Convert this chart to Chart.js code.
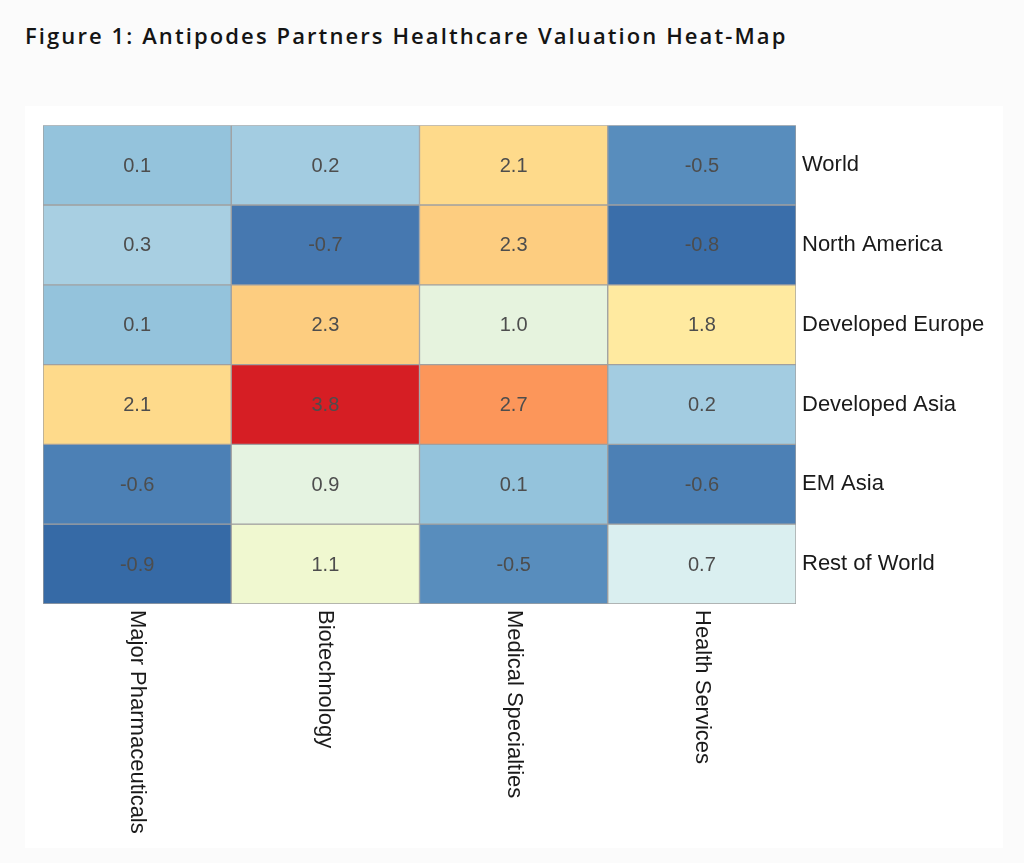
<!DOCTYPE html>
<html>
<head>
<meta charset="utf-8">
<title>Healthcare Valuation Heat-Map</title>
<script src="https://cdn.jsdelivr.net/npm/chart.js@4.4.1/dist/chart.umd.min.js"></script>
<style>
  body { margin: 0; background: #fbfbfb; width: 1024px; height: 863px; position: relative; overflow: hidden; }
  h1 { position: absolute; left: 25px; top: 20px; margin: 0; font-family: 'Open Sans', sans-serif; font-weight: 600;
       font-size: 22px; letter-spacing: 2.1px; color: #141414; }
  #panel { position: absolute; left: 25px; top: 106px; width: 978px; height: 742px; background: #fff; }
</style>
</head>
<body>
<h1>Figure 1: Antipodes Partners Healthcare Valuation Heat-Map</h1>
<div id="panel"><canvas id="heatmap" width="978" height="742"></canvas></div>
<script>
// Sectors (columns) and regions (rows)
const sectors = ['Major Pharmaceuticals', 'Biotechnology', 'Medical Specialties', 'Health Services'];
const regions = ['World', 'North America', 'Developed Europe', 'Developed Asia', 'EM Asia', 'Rest of World'];

// Valuation scores per region, in sector order
const world = [0.1, 0.2, 2.1, -0.5];
const northAmerica = [0.3, -0.7, 2.3, -0.8];
const developedEurope = [0.1, 2.3, 1.0, 1.8];
const developedAsia = [2.1, 3.8, 2.7, 0.2];
const emAsia = [-0.6, 0.9, 0.1, -0.6];
const restOfWorld = [-0.9, 1.1, -0.5, 0.7];

const rows = [world, northAmerica, developedEurope, developedAsia, emAsia, restOfWorld];

// Colour scale (blue -> yellow -> red)
const colourStops = [
    [-0.9, [54, 106, 166]],
    [-0.8, [58, 110, 170]],
    [-0.7, [70, 120, 176]],
    [-0.6, [76, 128, 181]],
    [-0.5, [88, 141, 189]],
    [0.1, [148, 195, 220]],
    [0.2, [163, 204, 225]],
    [0.3, [168, 207, 226]],
    [0.7, [218, 239, 240]],
    [0.9, [229, 243, 225]],
    [1.0, [230, 243, 222]],
    [1.1, [240, 248, 208]],
    [1.8, [255, 234, 160]],
    [2.1, [254, 218, 139]],
    [2.3, [253, 205, 128]],
    [2.7, [252, 150, 90]],
    [3.8, [214, 30, 36]]
];

function heatColour(v) {
    if (v <= colourStops[0][0]) return 'rgb(' + colourStops[0][1].join(',') + ')';
    for (let i = 1; i < colourStops.length; i++) {
        const [v1, c1] = colourStops[i];
        if (v <= v1) {
            const [v0, c0] = colourStops[i - 1];
            const t = (v - v0) / (v1 - v0);
            const c = c0.map((x, k) => Math.round(x + (c1[k] - x) * t));
            return 'rgb(' + c.join(',') + ')';
        }
    }
    return 'rgb(' + colourStops[colourStops.length - 1][1].join(',') + ')';
}

// Write the score in the middle of every cell
const cellLabels = {
    id: 'cellLabels',
    afterDatasetsDraw(chart) {
        const ctx = chart.ctx;
        ctx.save();
        ctx.font = '20px "Liberation Sans", Arial, sans-serif';
        ctx.fillStyle = '#4d4d4d';
        ctx.textAlign = 'center';
        ctx.textBaseline = 'middle';
        chart.data.datasets.forEach((ds, r) => {
            chart.getDatasetMeta(r).data.forEach((bar, c) => {
                ctx.fillText(rows[r][c].toFixed(1), bar.x, (bar.y + bar.base) / 2 + 1);
            });
        });
        ctx.restore();
    }
};

// Sector names below the grid, turned to read downwards
const columnLabels = {
    id: 'columnLabels',
    afterDraw(chart) {
        const ctx = chart.ctx;
        const xScale = chart.scales.x;
        ctx.save();
        ctx.font = '22px "Liberation Sans", Arial, sans-serif';
        ctx.fillStyle = '#1a1a1a';
        ctx.textAlign = 'left';
        ctx.textBaseline = 'middle';
        sectors.forEach((name, i) => {
            ctx.save();
            ctx.translate(xScale.getPixelForValue(i), chart.chartArea.bottom + 6);
            ctx.rotate(Math.PI / 2);
            ctx.fillText(name, 0, 0);
            ctx.restore();
        });
        ctx.restore();
    }
};

const datasets = rows.map((vals, r) => ({
    label: regions[r],
    data: vals.map(() => [r, r + 1]),
    backgroundColor: vals.map(heatColour),
    borderColor: '#a0a0a0',
    borderWidth: 1,
    borderSkipped: false,
    categoryPercentage: 1,
    barPercentage: 1
}));

new Chart(document.getElementById('heatmap'), {
    type: 'bar',
    data: { labels: sectors, datasets: datasets },
    options: {
        responsive: false,
        animation: false,
        devicePixelRatio: 1,
        layout: { padding: { left: 18, top: 15, right: 0, bottom: 0 } },
        plugins: {
            legend: { display: false },
            tooltip: { enabled: false }
        },
        scales: {
            x: {
                type: 'category',
                stacked: true,
                grid: { display: false, drawTicks: false },
                border: { display: false },
                ticks: { display: false },
                afterFit(scale) { scale.height = 244; }
            },
            y: {
                type: 'linear',
                position: 'right',
                reverse: true,
                min: 0,
                max: 6,
                grid: { display: false, drawTicks: false },
                border: { display: false },
                afterBuildTicks(scale) {
                    scale.ticks = regions.map((_, i) => ({ value: i + 0.5 }));
                },
                ticks: {
                    padding: 6,
                    color: '#1a1a1a',
                    font: { family: '"Liberation Sans", Arial, sans-serif', size: 22 },
                    callback: (value) => regions[Math.floor(value)]
                },
                afterFit(scale) { scale.width = 207; }
            }
        }
    },
    plugins: [cellLabels, columnLabels]
});
</script>
</body>
</html>
